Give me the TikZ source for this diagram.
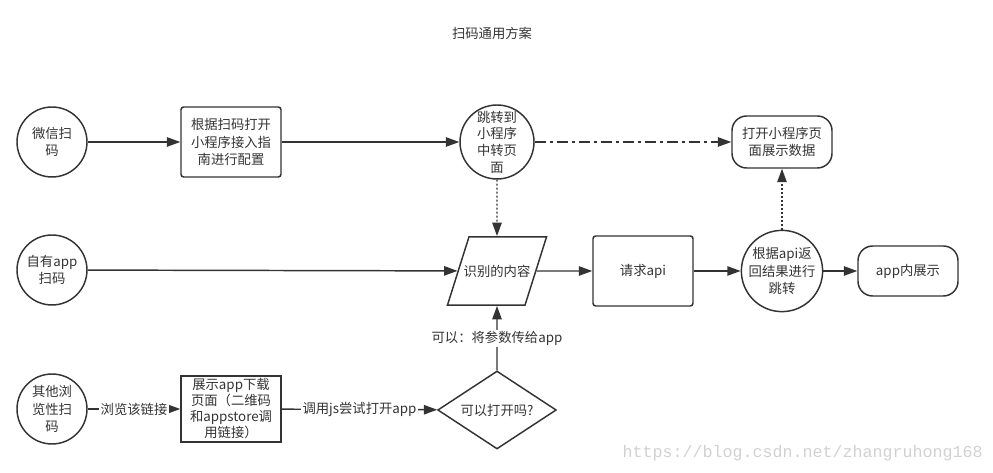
\documentclass[tikz,border=0pt]{standalone}
\usepackage{fontspec}
\setmainfont{Noto Sans CJK SC}
\newfontfamily\urlfont{Liberation Mono}
\usetikzlibrary{arrows.meta,positioning,shapes.geometric}
\definecolor{ink}{HTML}{333333}
\tikzset{%
	scan/.style     = {draw, circle, minimum size=52.5pt, inner sep=0pt, align=center}, % Start
	process/.style  = {draw, rectangle, rounded corners=2pt, minimum width=75pt, minimum height=52.5pt, align=center},
	plain/.style    = {draw, rectangle, minimum width=75pt, minimum height=49.5pt, inner sep=1pt, align=center},
	terminal/.style = {draw, rectangle, rounded corners=11pt, minimum width=75pt, minimum height=39pt, align=center},
	inout/.style    = {draw, trapezium, trapezium left angle=72.5, trapezium right angle=107.5, inner xsep=0pt, inner ysep=21pt},
	decision/.style = {draw, diamond, aspect=1.5, inner sep=0pt, minimum width=89pt, minimum height=58.5pt},
	edgelabel/.style= {fill=white, inner sep=1pt},
}
\tikzset{%
	arrow/.style    = {line width=1.1pt, -{Triangle[length=10pt,width=7pt]}},
	dashdot/.style  = {dash pattern=on 8.25pt off 3pt on 2.25pt off 3pt},
	dots/.style     = {dash pattern=on 1.5pt off 1.5pt},
}
\begin{document}
\begin{tikzpicture}[color=ink, line width=1.1pt, font=\fontsize{10pt}{13pt}\selectfont]
	\useasboundingbox (0,0) rectangle (744.75pt,-354.75pt);
	\node (title) at (369pt,-24.75pt) {扫码通用方案};
	
	\node[scan] (wx) at (39pt,-106.5pt) {微信扫\\码};
	\node[process,right of=wx,node distance=134.25pt] (cfg) {根据扫码打开\\小程序接入指\\南进行配置};
	\node[scan,minimum size=55.5pt,font=\fontsize{10pt}{12.5pt}\selectfont,right of=cfg,node distance=199.5pt] (jump) {跳转到\\小程序\\中转页\\面};
	\node[terminal,right of=jump,node distance=213.75pt] (openmp) {打开小程序页\\面展示数据};
	
	\node[scan,below of=wx,node distance=96pt] (own) {自有app\\扫码};
	\node[inout,below of=jump,node distance=96.75pt] (recog) {\makebox[42pt]{识别的内容}};
	\node[process,right of=recog,node distance=109.5pt] (req) {请求api};
	\node[scan,minimum size=60pt,right of=req,node distance=104.25pt] (ret) {根据api返\\回结果进行\\跳转};
	\node[terminal,minimum height=37.5pt,right of=ret,node distance=94.5pt] (inapp) {app内展示};
	
	\node[scan,below of=own,node distance=104.25pt] (other) {其他浏\\览性扫\\码};
	\node[plain,font=\fontsize{10pt}{12pt}\selectfont,right of=other,node distance=134.25pt] (dl) {展示app下载\\页面（二维码\\和appstore调\\用链接）};
	\node[decision,below of=recog,node distance=104.25pt] (can) {可以打开吗?};
	
	\node[text=black!18,font=\urlfont\fontsize{12.5pt}{14pt}\selectfont] (mark) at (601.9pt,-339.75pt) {https://blog.csdn.net/zhangruhong168};
	
	\draw[arrow] (wx) -- (cfg);
	\draw[arrow] (cfg) -- (jump);
	\draw[arrow,dashdot] (jump) -- (openmp);
	\draw[arrow,dots] (jump) -- (recog);
	\draw[arrow] (own) -- (recog);
	\draw[arrow] (recog) -- (req);
	\draw[arrow] (req) -- (ret);
	\draw[arrow] (ret) -- (inapp);
	\draw[arrow,dots] (ret) -- (openmp);
	\draw[arrow] (other) -- node[edgelabel] {浏览该链接} (dl);
	\draw[arrow] (dl) -- node[edgelabel] {调用js尝试打开app} (can);
	\draw[arrow] (can) -- node[edgelabel] {可以：将参数传给app} (recog);
\end{tikzpicture}
\end{document}
